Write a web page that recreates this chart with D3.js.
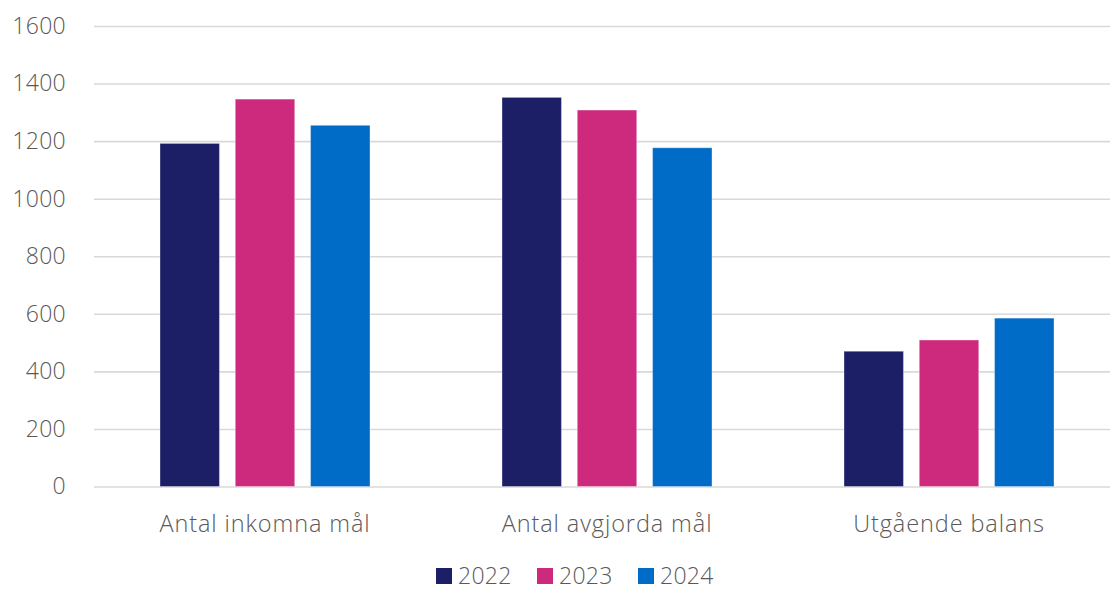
<!DOCTYPE html>
<html><head><meta charset="utf-8">
<script src="https://cdn.jsdelivr.net/npm/d3@7"></script>
<style>
html,body{margin:0;padding:0;background:#fff;}
text{font-family:"Open Sans",sans-serif;font-weight:300;fill:#595959;}
</style></head>
<body><svg id="c" width="1110" height="591"></svg>
<script>
const categories = ["Antal inkomna mål", "Antal avgjorda mål", "Utgående balans"];
const years = ["2022", "2023", "2024"];
const values2022 = [1192, 1352, 470];
const values2023 = [1346, 1308, 509];
const values2024 = [1255, 1177, 585];
const yTicks = [0, 200, 400, 600, 800, 1000, 1200, 1400, 1600];
const colors = ["#1c1f66", "#cd2a7e", "#006cc8"];

(function () {
const series = [values2022, values2023, values2024];
const svg = d3.select("#c");
const mLeft = 94, mRight = 1120, mTop = 26, mBottom = 486.5;

const x0 = d3.scaleBand().domain(categories).range([mLeft, mRight]).paddingInner(0).paddingOuter(0);
const x1 = d3.scaleBand().domain(years).range([66, 342 - 66]).paddingInner(0.21).paddingOuter(0);
const y = d3.scaleLinear().domain([0, 1600]).range([mBottom, mTop]);

const yAxis = d3.axisLeft(y).tickValues(yTicks).tickSize(-(mRight - mLeft)).tickPadding(28).tickFormat(d3.format("d"));
const ga = svg.append("g").attr("transform", `translate(${mLeft},0)`).call(yAxis);
ga.select(".domain").remove();
ga.selectAll(".tick line").attr("stroke", "#d9d9d9").attr("stroke-width", 1.6);
ga.selectAll(".tick text").style("font-size", "23px").style("letter-spacing", "0.3px").attr("fill", "#595959");

const groups = svg.append("g").selectAll("g").data(categories).join("g")
  .attr("transform", d => `translate(${x0(d)},0)`);
groups.selectAll("rect").data((d, i) => years.map((yr, j) => ({yr, v: series[j][i], c: colors[j]})))
  .join("rect")
  .attr("x", d => x1(d.yr))
  .attr("width", x1.bandwidth())
  .attr("y", d => y(d.v))
  .attr("height", d => y(0) - y(d.v))
  .attr("fill", d => d.c)
  .attr("stroke", "rgba(255,255,255,0.35)")
  .attr("stroke-width", 1);

const xAxis = d3.axisBottom(x0).tickSize(0).tickPadding(29);
const gx = svg.append("g").attr("transform", `translate(0,${mBottom})`).call(xAxis);
gx.select(".domain").remove();
gx.selectAll(".tick text").style("font-size", "23.5px").style("letter-spacing", "0.9px").attr("fill", "#595959");

const legendX = [436, 537, 638];
const lg = svg.append("g").selectAll("g").data(years).join("g")
  .attr("transform", (d, i) => `translate(${legendX[i]},568)`);
lg.append("rect").attr("width", 16).attr("height", 16).attr("fill", (d, i) => colors[i]);
lg.append("text").attr("x", 22).attr("y", 16).style("font-size", "23px").style("letter-spacing", "0.3px").text(d => d);
})();
</script></body></html>
